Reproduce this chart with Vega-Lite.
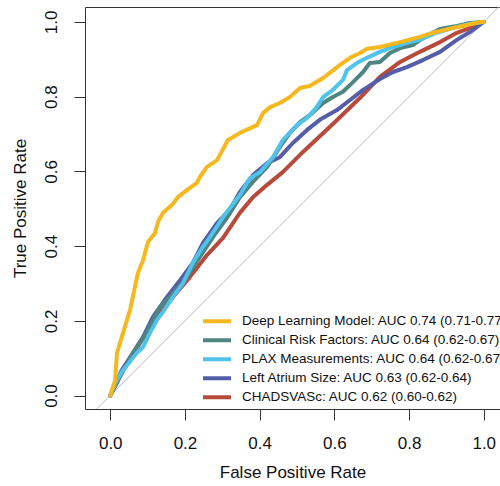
{
  "$schema": "https://vega.github.io/schema/vega-lite/v6.json",
  "width": 415,
  "height": 402,
  "autosize": {"type": "none"},
  "padding": {"left": 85, "top": 7, "right": 0, "bottom": 77},
  "background": "white",
  "config": {"view": {"stroke": "#333", "strokeWidth": 1}, "font": "Liberation Sans"},
  "encoding": {
    "x": {
      "field": "fpr", "type": "quantitative",
      "scale": {"domain": [-0.0676, 1.0435], "nice": false, "zero": false},
      "axis": {"title": "False Positive Rate", "values": [0, 0.2, 0.4, 0.6, 0.8, 1], "format": ".1f", "domain": false, "grid": false,
        "tickSize": 11, "tickColor": "#333", "labelFontSize": 17, "labelColor": "#111", "labelPadding": 15, "labelFlush": false,
        "titleFontSize": 17, "titleFontWeight": "normal", "titleColor": "#111", "titlePadding": 13}
    },
    "y": {
      "field": "tpr", "type": "quantitative",
      "scale": {"domain": [-0.036, 1.04], "nice": false, "zero": false},
      "axis": {"title": "True Positive Rate", "values": [0, 0.2, 0.4, 0.6, 0.8, 1], "format": ".1f", "domain": false, "grid": false,
        "tickSize": 11, "tickColor": "#333", "labelFontSize": 17, "labelColor": "#111", "labelPadding": 14, "labelAngle": -90, "labelFlush": false,
        "titleFontSize": 17, "titleFontWeight": "normal", "titleColor": "#111", "titlePadding": 13}
    }
  },
  "layer": [
    {
      "data": {"values": [{"fpr": -0.2, "tpr": -0.2}, {"fpr": 1.2, "tpr": 1.2}]},
      "mark": {"type": "line", "color": "#BDBDBD", "strokeWidth": 1, "clip": true}
    },
    {
      "data": {"values": [
        {"model": "CHADSVASc: AUC 0.62 (0.60-0.62)", "fpr": 0, "tpr": 0},
        {"model": "CHADSVASc: AUC 0.62 (0.60-0.62)", "fpr": 0.034, "tpr": 0.068},
        {"model": "CHADSVASc: AUC 0.62 (0.60-0.62)", "fpr": 0.080, "tpr": 0.141},
        {"model": "CHADSVASc: AUC 0.62 (0.60-0.62)", "fpr": 0.125, "tpr": 0.210},
        {"model": "CHADSVASc: AUC 0.62 (0.60-0.62)", "fpr": 0.168, "tpr": 0.264},
        {"model": "CHADSVASc: AUC 0.62 (0.60-0.62)", "fpr": 0.213, "tpr": 0.317},
        {"model": "CHADSVASc: AUC 0.62 (0.60-0.62)", "fpr": 0.259, "tpr": 0.376},
        {"model": "CHADSVASc: AUC 0.62 (0.60-0.62)", "fpr": 0.302, "tpr": 0.422},
        {"model": "CHADSVASc: AUC 0.62 (0.60-0.62)", "fpr": 0.347, "tpr": 0.489},
        {"model": "CHADSVASc: AUC 0.62 (0.60-0.62)", "fpr": 0.382, "tpr": 0.531},
        {"model": "CHADSVASc: AUC 0.62 (0.60-0.62)", "fpr": 0.420, "tpr": 0.564},
        {"model": "CHADSVASc: AUC 0.62 (0.60-0.62)", "fpr": 0.462, "tpr": 0.598},
        {"model": "CHADSVASc: AUC 0.62 (0.60-0.62)", "fpr": 0.516, "tpr": 0.652},
        {"model": "CHADSVASc: AUC 0.62 (0.60-0.62)", "fpr": 0.596, "tpr": 0.727},
        {"model": "CHADSVASc: AUC 0.62 (0.60-0.62)", "fpr": 0.669, "tpr": 0.797},
        {"model": "CHADSVASc: AUC 0.62 (0.60-0.62)", "fpr": 0.722, "tpr": 0.853},
        {"model": "CHADSVASc: AUC 0.62 (0.60-0.62)", "fpr": 0.776, "tpr": 0.893},
        {"model": "CHADSVASc: AUC 0.62 (0.60-0.62)", "fpr": 0.829, "tpr": 0.920},
        {"model": "CHADSVASc: AUC 0.62 (0.60-0.62)", "fpr": 0.883, "tpr": 0.946},
        {"model": "CHADSVASc: AUC 0.62 (0.60-0.62)", "fpr": 0.928, "tpr": 0.971},
        {"model": "CHADSVASc: AUC 0.62 (0.60-0.62)", "fpr": 0.971, "tpr": 0.987},
        {"model": "CHADSVASc: AUC 0.62 (0.60-0.62)", "fpr": 1, "tpr": 1},

        {"model": "Left Atrium Size: AUC 0.63 (0.62-0.64)", "fpr": 0, "tpr": 0},
        {"model": "Left Atrium Size: AUC 0.63 (0.62-0.64)", "fpr": 0.031, "tpr": 0.068},
        {"model": "Left Atrium Size: AUC 0.63 (0.62-0.64)", "fpr": 0.061, "tpr": 0.114},
        {"model": "Left Atrium Size: AUC 0.63 (0.62-0.64)", "fpr": 0.088, "tpr": 0.157},
        {"model": "Left Atrium Size: AUC 0.63 (0.62-0.64)", "fpr": 0.114, "tpr": 0.210},
        {"model": "Left Atrium Size: AUC 0.63 (0.62-0.64)", "fpr": 0.152, "tpr": 0.264},
        {"model": "Left Atrium Size: AUC 0.63 (0.62-0.64)", "fpr": 0.187, "tpr": 0.309},
        {"model": "Left Atrium Size: AUC 0.63 (0.62-0.64)", "fpr": 0.221, "tpr": 0.355},
        {"model": "Left Atrium Size: AUC 0.63 (0.62-0.64)", "fpr": 0.248, "tpr": 0.408},
        {"model": "Left Atrium Size: AUC 0.63 (0.62-0.64)", "fpr": 0.286, "tpr": 0.462},
        {"model": "Left Atrium Size: AUC 0.63 (0.62-0.64)", "fpr": 0.320, "tpr": 0.497},
        {"model": "Left Atrium Size: AUC 0.63 (0.62-0.64)", "fpr": 0.347, "tpr": 0.545},
        {"model": "Left Atrium Size: AUC 0.63 (0.62-0.64)", "fpr": 0.382, "tpr": 0.590},
        {"model": "Left Atrium Size: AUC 0.63 (0.62-0.64)", "fpr": 0.420, "tpr": 0.622},
        {"model": "Left Atrium Size: AUC 0.63 (0.62-0.64)", "fpr": 0.454, "tpr": 0.638},
        {"model": "Left Atrium Size: AUC 0.63 (0.62-0.64)", "fpr": 0.489, "tpr": 0.676},
        {"model": "Left Atrium Size: AUC 0.63 (0.62-0.64)", "fpr": 0.527, "tpr": 0.711},
        {"model": "Left Atrium Size: AUC 0.63 (0.62-0.64)", "fpr": 0.561, "tpr": 0.738},
        {"model": "Left Atrium Size: AUC 0.63 (0.62-0.64)", "fpr": 0.607, "tpr": 0.764},
        {"model": "Left Atrium Size: AUC 0.63 (0.62-0.64)", "fpr": 0.642, "tpr": 0.791},
        {"model": "Left Atrium Size: AUC 0.63 (0.62-0.64)", "fpr": 0.677, "tpr": 0.818},
        {"model": "Left Atrium Size: AUC 0.63 (0.62-0.64)", "fpr": 0.722, "tpr": 0.847},
        {"model": "Left Atrium Size: AUC 0.63 (0.62-0.64)", "fpr": 0.757, "tpr": 0.866},
        {"model": "Left Atrium Size: AUC 0.63 (0.62-0.64)", "fpr": 0.794, "tpr": 0.879},
        {"model": "Left Atrium Size: AUC 0.63 (0.62-0.64)", "fpr": 0.837, "tpr": 0.898},
        {"model": "Left Atrium Size: AUC 0.63 (0.62-0.64)", "fpr": 0.883, "tpr": 0.920},
        {"model": "Left Atrium Size: AUC 0.63 (0.62-0.64)", "fpr": 0.928, "tpr": 0.952},
        {"model": "Left Atrium Size: AUC 0.63 (0.62-0.64)", "fpr": 0.963, "tpr": 0.973},
        {"model": "Left Atrium Size: AUC 0.63 (0.62-0.64)", "fpr": 1, "tpr": 1},

        {"model": "Clinical Risk Factors: AUC 0.64 (0.62-0.67)", "fpr": 0, "tpr": 0},
        {"model": "Clinical Risk Factors: AUC 0.64 (0.62-0.67)", "fpr": 0.026, "tpr": 0.050},
        {"model": "Clinical Risk Factors: AUC 0.64 (0.62-0.67)", "fpr": 0.061, "tpr": 0.114},
        {"model": "Clinical Risk Factors: AUC 0.64 (0.62-0.67)", "fpr": 0.098, "tpr": 0.170},
        {"model": "Clinical Risk Factors: AUC 0.64 (0.62-0.67)", "fpr": 0.133, "tpr": 0.237},
        {"model": "Clinical Risk Factors: AUC 0.64 (0.62-0.67)", "fpr": 0.168, "tpr": 0.274},
        {"model": "Clinical Risk Factors: AUC 0.64 (0.62-0.67)", "fpr": 0.205, "tpr": 0.317},
        {"model": "Clinical Risk Factors: AUC 0.64 (0.62-0.67)", "fpr": 0.240, "tpr": 0.371},
        {"model": "Clinical Risk Factors: AUC 0.64 (0.62-0.67)", "fpr": 0.275, "tpr": 0.424},
        {"model": "Clinical Risk Factors: AUC 0.64 (0.62-0.67)", "fpr": 0.312, "tpr": 0.475},
        {"model": "Clinical Risk Factors: AUC 0.64 (0.62-0.67)", "fpr": 0.347, "tpr": 0.531},
        {"model": "Clinical Risk Factors: AUC 0.64 (0.62-0.67)", "fpr": 0.382, "tpr": 0.572},
        {"model": "Clinical Risk Factors: AUC 0.64 (0.62-0.67)", "fpr": 0.420, "tpr": 0.612},
        {"model": "Clinical Risk Factors: AUC 0.64 (0.62-0.67)", "fpr": 0.454, "tpr": 0.665},
        {"model": "Clinical Risk Factors: AUC 0.64 (0.62-0.67)", "fpr": 0.481, "tpr": 0.703},
        {"model": "Clinical Risk Factors: AUC 0.64 (0.62-0.67)", "fpr": 0.508, "tpr": 0.732},
        {"model": "Clinical Risk Factors: AUC 0.64 (0.62-0.67)", "fpr": 0.535, "tpr": 0.751},
        {"model": "Clinical Risk Factors: AUC 0.64 (0.62-0.67)", "fpr": 0.570, "tpr": 0.783},
        {"model": "Clinical Risk Factors: AUC 0.64 (0.62-0.67)", "fpr": 0.596, "tpr": 0.799},
        {"model": "Clinical Risk Factors: AUC 0.64 (0.62-0.67)", "fpr": 0.623, "tpr": 0.813},
        {"model": "Clinical Risk Factors: AUC 0.64 (0.62-0.67)", "fpr": 0.650, "tpr": 0.839},
        {"model": "Clinical Risk Factors: AUC 0.64 (0.62-0.67)", "fpr": 0.677, "tpr": 0.866},
        {"model": "Clinical Risk Factors: AUC 0.64 (0.62-0.67)", "fpr": 0.695, "tpr": 0.890},
        {"model": "Clinical Risk Factors: AUC 0.64 (0.62-0.67)", "fpr": 0.722, "tpr": 0.893},
        {"model": "Clinical Risk Factors: AUC 0.64 (0.62-0.67)", "fpr": 0.749, "tpr": 0.917},
        {"model": "Clinical Risk Factors: AUC 0.64 (0.62-0.67)", "fpr": 0.776, "tpr": 0.930},
        {"model": "Clinical Risk Factors: AUC 0.64 (0.62-0.67)", "fpr": 0.810, "tpr": 0.938},
        {"model": "Clinical Risk Factors: AUC 0.64 (0.62-0.67)", "fpr": 0.837, "tpr": 0.957},
        {"model": "Clinical Risk Factors: AUC 0.64 (0.62-0.67)", "fpr": 0.883, "tpr": 0.981},
        {"model": "Clinical Risk Factors: AUC 0.64 (0.62-0.67)", "fpr": 0.928, "tpr": 0.989},
        {"model": "Clinical Risk Factors: AUC 0.64 (0.62-0.67)", "fpr": 0.963, "tpr": 0.997},
        {"model": "Clinical Risk Factors: AUC 0.64 (0.62-0.67)", "fpr": 1, "tpr": 1},

        {"model": "PLAX Measurements: AUC 0.64 (0.62-0.67)", "fpr": 0, "tpr": 0},
        {"model": "PLAX Measurements: AUC 0.64 (0.62-0.67)", "fpr": 0.013, "tpr": 0.033},
        {"model": "PLAX Measurements: AUC 0.64 (0.62-0.67)", "fpr": 0.034, "tpr": 0.068},
        {"model": "PLAX Measurements: AUC 0.64 (0.62-0.67)", "fpr": 0.071, "tpr": 0.114},
        {"model": "PLAX Measurements: AUC 0.64 (0.62-0.67)", "fpr": 0.088, "tpr": 0.130},
        {"model": "PLAX Measurements: AUC 0.64 (0.62-0.67)", "fpr": 0.106, "tpr": 0.167},
        {"model": "PLAX Measurements: AUC 0.64 (0.62-0.67)", "fpr": 0.125, "tpr": 0.202},
        {"model": "PLAX Measurements: AUC 0.64 (0.62-0.67)", "fpr": 0.141, "tpr": 0.224},
        {"model": "PLAX Measurements: AUC 0.64 (0.62-0.67)", "fpr": 0.168, "tpr": 0.264},
        {"model": "PLAX Measurements: AUC 0.64 (0.62-0.67)", "fpr": 0.195, "tpr": 0.301},
        {"model": "PLAX Measurements: AUC 0.64 (0.62-0.67)", "fpr": 0.221, "tpr": 0.355},
        {"model": "PLAX Measurements: AUC 0.64 (0.62-0.67)", "fpr": 0.248, "tpr": 0.398},
        {"model": "PLAX Measurements: AUC 0.64 (0.62-0.67)", "fpr": 0.267, "tpr": 0.424},
        {"model": "PLAX Measurements: AUC 0.64 (0.62-0.67)", "fpr": 0.302, "tpr": 0.478},
        {"model": "PLAX Measurements: AUC 0.64 (0.62-0.67)", "fpr": 0.347, "tpr": 0.537},
        {"model": "PLAX Measurements: AUC 0.64 (0.62-0.67)", "fpr": 0.374, "tpr": 0.582},
        {"model": "PLAX Measurements: AUC 0.64 (0.62-0.67)", "fpr": 0.401, "tpr": 0.598},
        {"model": "PLAX Measurements: AUC 0.64 (0.62-0.67)", "fpr": 0.436, "tpr": 0.638},
        {"model": "PLAX Measurements: AUC 0.64 (0.62-0.67)", "fpr": 0.462, "tpr": 0.684},
        {"model": "PLAX Measurements: AUC 0.64 (0.62-0.67)", "fpr": 0.500, "tpr": 0.724},
        {"model": "PLAX Measurements: AUC 0.64 (0.62-0.67)", "fpr": 0.527, "tpr": 0.743},
        {"model": "PLAX Measurements: AUC 0.64 (0.62-0.67)", "fpr": 0.553, "tpr": 0.772},
        {"model": "PLAX Measurements: AUC 0.64 (0.62-0.67)", "fpr": 0.570, "tpr": 0.799},
        {"model": "PLAX Measurements: AUC 0.64 (0.62-0.67)", "fpr": 0.596, "tpr": 0.818},
        {"model": "PLAX Measurements: AUC 0.64 (0.62-0.67)", "fpr": 0.623, "tpr": 0.845},
        {"model": "PLAX Measurements: AUC 0.64 (0.62-0.67)", "fpr": 0.634, "tpr": 0.871},
        {"model": "PLAX Measurements: AUC 0.64 (0.62-0.67)", "fpr": 0.660, "tpr": 0.890},
        {"model": "PLAX Measurements: AUC 0.64 (0.62-0.67)", "fpr": 0.687, "tpr": 0.904},
        {"model": "PLAX Measurements: AUC 0.64 (0.62-0.67)", "fpr": 0.722, "tpr": 0.920},
        {"model": "PLAX Measurements: AUC 0.64 (0.62-0.67)", "fpr": 0.757, "tpr": 0.933},
        {"model": "PLAX Measurements: AUC 0.64 (0.62-0.67)", "fpr": 0.794, "tpr": 0.944},
        {"model": "PLAX Measurements: AUC 0.64 (0.62-0.67)", "fpr": 0.829, "tpr": 0.952},
        {"model": "PLAX Measurements: AUC 0.64 (0.62-0.67)", "fpr": 0.874, "tpr": 0.971},
        {"model": "PLAX Measurements: AUC 0.64 (0.62-0.67)", "fpr": 0.918, "tpr": 0.984},
        {"model": "PLAX Measurements: AUC 0.64 (0.62-0.67)", "fpr": 0.963, "tpr": 0.995},
        {"model": "PLAX Measurements: AUC 0.64 (0.62-0.67)", "fpr": 1, "tpr": 1},

        {"model": "Deep Learning Model: AUC 0.74 (0.71-0.77)", "fpr": 0, "tpr": 0},
        {"model": "Deep Learning Model: AUC 0.74 (0.71-0.77)", "fpr": 0.013, "tpr": 0.041},
        {"model": "Deep Learning Model: AUC 0.74 (0.71-0.77)", "fpr": 0.018, "tpr": 0.114},
        {"model": "Deep Learning Model: AUC 0.74 (0.71-0.77)", "fpr": 0.034, "tpr": 0.167},
        {"model": "Deep Learning Model: AUC 0.74 (0.71-0.77)", "fpr": 0.053, "tpr": 0.229},
        {"model": "Deep Learning Model: AUC 0.74 (0.71-0.77)", "fpr": 0.066, "tpr": 0.290},
        {"model": "Deep Learning Model: AUC 0.74 (0.71-0.77)", "fpr": 0.074, "tpr": 0.328},
        {"model": "Deep Learning Model: AUC 0.74 (0.71-0.77)", "fpr": 0.088, "tpr": 0.363},
        {"model": "Deep Learning Model: AUC 0.74 (0.71-0.77)", "fpr": 0.101, "tpr": 0.411},
        {"model": "Deep Learning Model: AUC 0.74 (0.71-0.77)", "fpr": 0.120, "tpr": 0.435},
        {"model": "Deep Learning Model: AUC 0.74 (0.71-0.77)", "fpr": 0.128, "tpr": 0.465},
        {"model": "Deep Learning Model: AUC 0.74 (0.71-0.77)", "fpr": 0.141, "tpr": 0.489},
        {"model": "Deep Learning Model: AUC 0.74 (0.71-0.77)", "fpr": 0.165, "tpr": 0.510},
        {"model": "Deep Learning Model: AUC 0.74 (0.71-0.77)", "fpr": 0.181, "tpr": 0.531},
        {"model": "Deep Learning Model: AUC 0.74 (0.71-0.77)", "fpr": 0.205, "tpr": 0.550},
        {"model": "Deep Learning Model: AUC 0.74 (0.71-0.77)", "fpr": 0.232, "tpr": 0.569},
        {"model": "Deep Learning Model: AUC 0.74 (0.71-0.77)", "fpr": 0.240, "tpr": 0.585},
        {"model": "Deep Learning Model: AUC 0.74 (0.71-0.77)", "fpr": 0.259, "tpr": 0.612},
        {"model": "Deep Learning Model: AUC 0.74 (0.71-0.77)", "fpr": 0.286, "tpr": 0.630},
        {"model": "Deep Learning Model: AUC 0.74 (0.71-0.77)", "fpr": 0.315, "tpr": 0.684},
        {"model": "Deep Learning Model: AUC 0.74 (0.71-0.77)", "fpr": 0.329, "tpr": 0.692},
        {"model": "Deep Learning Model: AUC 0.74 (0.71-0.77)", "fpr": 0.347, "tpr": 0.703},
        {"model": "Deep Learning Model: AUC 0.74 (0.71-0.77)", "fpr": 0.393, "tpr": 0.724},
        {"model": "Deep Learning Model: AUC 0.74 (0.71-0.77)", "fpr": 0.409, "tpr": 0.756},
        {"model": "Deep Learning Model: AUC 0.74 (0.71-0.77)", "fpr": 0.428, "tpr": 0.772},
        {"model": "Deep Learning Model: AUC 0.74 (0.71-0.77)", "fpr": 0.454, "tpr": 0.783},
        {"model": "Deep Learning Model: AUC 0.74 (0.71-0.77)", "fpr": 0.481, "tpr": 0.799},
        {"model": "Deep Learning Model: AUC 0.74 (0.71-0.77)", "fpr": 0.508, "tpr": 0.823},
        {"model": "Deep Learning Model: AUC 0.74 (0.71-0.77)", "fpr": 0.535, "tpr": 0.829},
        {"model": "Deep Learning Model: AUC 0.74 (0.71-0.77)", "fpr": 0.570, "tpr": 0.850},
        {"model": "Deep Learning Model: AUC 0.74 (0.71-0.77)", "fpr": 0.615, "tpr": 0.885},
        {"model": "Deep Learning Model: AUC 0.74 (0.71-0.77)", "fpr": 0.642, "tpr": 0.904},
        {"model": "Deep Learning Model: AUC 0.74 (0.71-0.77)", "fpr": 0.669, "tpr": 0.917},
        {"model": "Deep Learning Model: AUC 0.74 (0.71-0.77)", "fpr": 0.687, "tpr": 0.928},
        {"model": "Deep Learning Model: AUC 0.74 (0.71-0.77)", "fpr": 0.722, "tpr": 0.933},
        {"model": "Deep Learning Model: AUC 0.74 (0.71-0.77)", "fpr": 0.776, "tpr": 0.946},
        {"model": "Deep Learning Model: AUC 0.74 (0.71-0.77)", "fpr": 0.829, "tpr": 0.960},
        {"model": "Deep Learning Model: AUC 0.74 (0.71-0.77)", "fpr": 0.864, "tpr": 0.971},
        {"model": "Deep Learning Model: AUC 0.74 (0.71-0.77)", "fpr": 0.918, "tpr": 0.984},
        {"model": "Deep Learning Model: AUC 0.74 (0.71-0.77)", "fpr": 0.955, "tpr": 0.992},
        {"model": "Deep Learning Model: AUC 0.74 (0.71-0.77)", "fpr": 0.990, "tpr": 1.0},
        {"model": "Deep Learning Model: AUC 0.74 (0.71-0.77)", "fpr": 1, "tpr": 1}
      ]},
      "mark": {"type": "line", "strokeWidth": 4, "strokeCap": "round", "strokeJoin": "round", "clip": true},
      "encoding": {
        "color": {
          "field": "model", "type": "nominal",
          "scale": {
            "domain": ["Deep Learning Model: AUC 0.74 (0.71-0.77)", "Clinical Risk Factors: AUC 0.64 (0.62-0.67)", "PLAX Measurements: AUC 0.64 (0.62-0.67)", "Left Atrium Size: AUC 0.63 (0.62-0.64)", "CHADSVASc: AUC 0.62 (0.60-0.62)"],
            "range": ["#F6B81C", "#4E8482", "#4FC3EA", "#545DA8", "#B84A3C"]
          },
          "legend": {"orient": "none", "legendX": 116, "legendY": 305, "title": null, "symbolType": "stroke", "symbolStrokeWidth": 4,
            "symbolSize": 784, "clipHeight": 18.3, "rowPadding": 0, "labelFontSize": 13.5, "labelColor": "#111", "labelOffset": 9,
            "labelLimit": 400, "padding": 0}
        }
      }
    }
  ]
}
